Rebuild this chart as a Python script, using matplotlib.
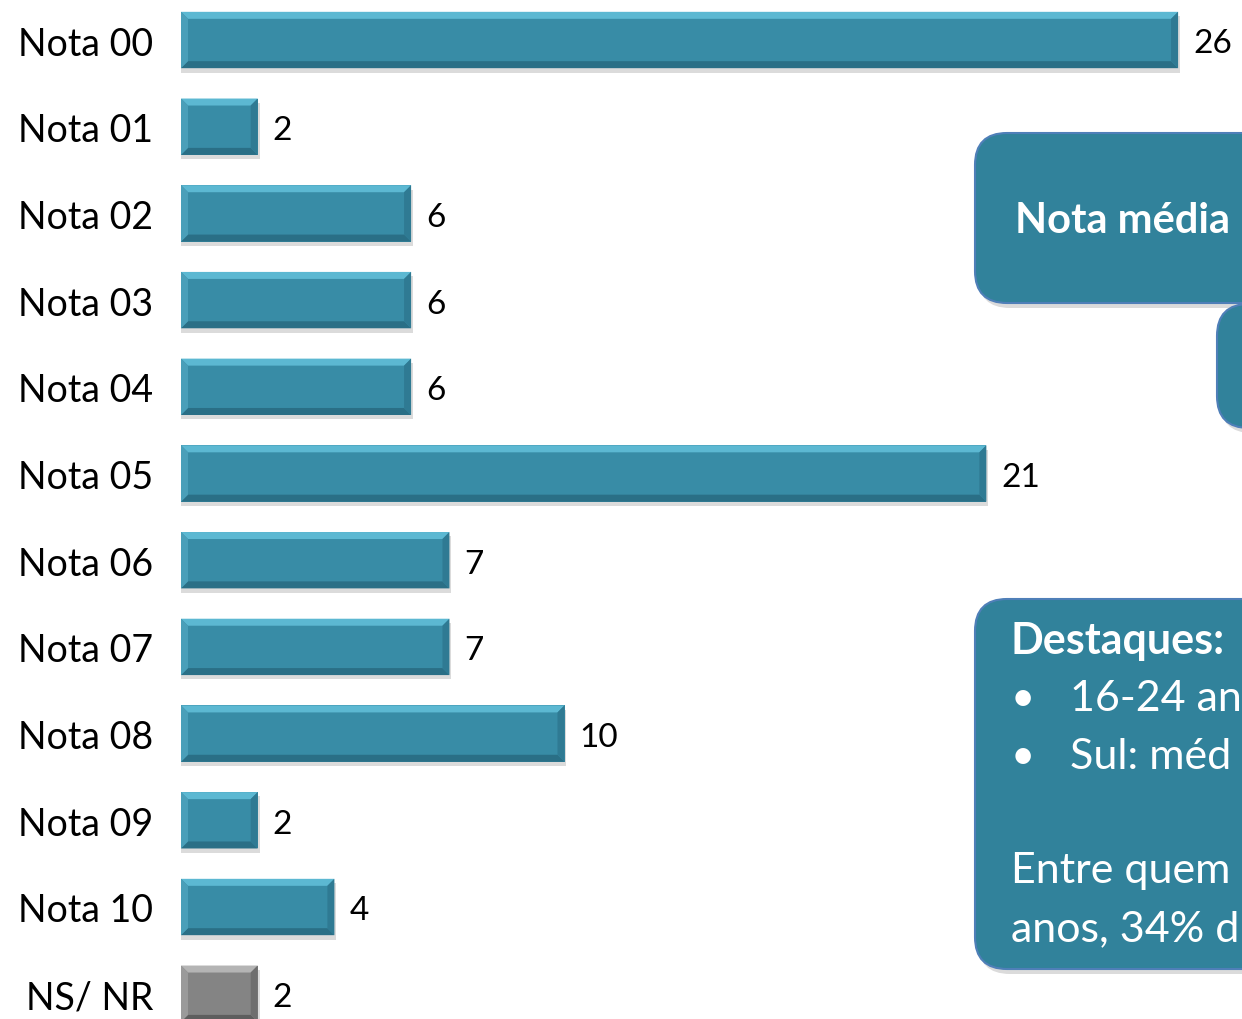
import numpy as np
import matplotlib.pyplot as plt
from matplotlib.patches import Polygon, FancyBboxPatch

plt.rcParams['font.family'] = ['Lato', 'DejaVu Sans']

# data
labels = ['Nota 00', 'Nota 01', 'Nota 02', 'Nota 03', 'Nota 04', 'Nota 05',
          'Nota 06', 'Nota 07', 'Nota 08', 'Nota 09', 'Nota 10', 'NS/ NR']
values = [26, 2, 6, 6, 6, 21, 7, 7, 10, 2, 4, 2]
teal = ['#388ca6', '#5cb8d2', '#2a6f86', '#4a9fb9', '#2f7a93']
gray = ['#848484', '#b4b4b4', '#5e5e5e', '#9a9a9a', '#6e6e6e']

W, H = 1242, 1020
fig = plt.figure(figsize=(W / 100, H / 100), dpi=100)
ax = fig.add_axes([181 / W, 0, 1 - 181 / W, 1])

px_x = 38.35   # pixels per unit
px_y = 86.7    # pixels per row
ax.set_xlim(0, (W - 181) / px_x)
ax.set_ylim((H - 41) / px_y, -41 / px_y)

ypos = np.arange(len(values))
h = 0.65
dx = 7 / px_x
dy = 7 / px_y

for i, v in enumerate(values):
    c = gray if labels[i].startswith('NS') else teal
    # shadow
    ax.barh(i + 0.05, v + 0.05, height=h, color='#999999', alpha=0.35, zorder=1)
    ax.barh(i, v, height=h, color=c[0], zorder=2)
    y0, y1 = i - h / 2, i + h / 2
    ax.add_patch(Polygon([(0, y0), (v, y0), (v - dx, y0 + dy), (dx, y0 + dy)],
                         closed=True, color=c[1], lw=0, zorder=3))
    ax.add_patch(Polygon([(0, y1), (v, y1), (v - dx, y1 - dy), (dx, y1 - dy)],
                         closed=True, color=c[2], lw=0, zorder=3))
    ax.add_patch(Polygon([(0, y0), (dx, y0 + dy), (dx, y1 - dy), (0, y1)],
                         closed=True, color=c[3], lw=0, zorder=3))
    ax.add_patch(Polygon([(v, y0), (v - dx, y0 + dy), (v - dx, y1 - dy), (v, y1)],
                         closed=True, color=c[4], lw=0, zorder=3))
    ax.text(v + 15 / px_x, i + 0.04, str(v), ha='left', va='center', fontsize=24, color='black')

ax.set_yticks(ypos)
ax.set_yticklabels(labels, fontsize=27)
ax.tick_params(axis='y', length=0, pad=20)
ax.set_xticks([])
for s in ax.spines.values():
    s.set_visible(False)

# callout boxes on top, pixel coordinates
ov = fig.add_axes([0, 0, 1, 1])
ov.set_xlim(0, W)
ov.set_ylim(H, 0)
ov.axis('off')
box_c = '#31829b'
box_e = '#4f7fb8'
boxes = [(975, 134, 400, 170), (1217, 305, 200, 124), (975, 600, 400, 370)]
for (x, y, w, hh) in boxes:
    ov.add_patch(FancyBboxPatch((x + 3, y + 5), w, hh, boxstyle='round,pad=0,rounding_size=32',
                                fc='#888888', ec='none', alpha=0.3, zorder=1))
    ov.add_patch(FancyBboxPatch((x, y), w, hh, boxstyle='round,pad=0,rounding_size=32',
                                fc=box_c, ec=box_e, lw=1.5, zorder=2))

tk = dict(color='white', va='center', zorder=3)
ov.text(1015, 221, 'Nota média', fontsize=30, fontweight='bold', **tk)
ov.text(1011, 641, 'Destaques:', fontsize=31, fontweight='bold', **tk)
ov.text(1011, 699, '•', fontsize=30, **tk)
ov.text(1070, 699, '16-24 an', fontsize=31, **tk)
ov.text(1011, 757, '•', fontsize=30, **tk)
ov.text(1070, 757, 'Sul: méd', fontsize=31, **tk)
ov.text(1011, 871, 'Entre quem', fontsize=31, **tk)
ov.text(1011, 929, 'anos, 34% d', fontsize=31, **tk)

fig.savefig('out.png', dpi=100)
